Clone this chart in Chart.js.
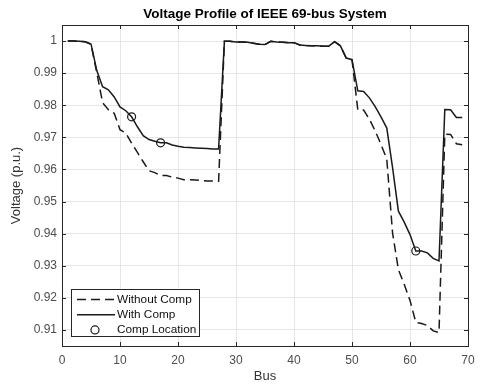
<!DOCTYPE html>
<html>
<head>
<meta charset="utf-8">
<script src="https://cdn.jsdelivr.net/npm/chart.js@4"></script>
<style>
  html, body { margin: 0; padding: 0; background: #fff; }
  #wrap { width: 482px; height: 384px; }
</style>
</head>
<body>
<div id="wrap"><canvas id="voltage"></canvas></div>
<script>
// Data
const buses = [1, 2, 3, 4, 5, 6, 7, 8, 9, 10, 11, 12, 13, 14, 15, 16, 17, 18, 19, 20,
  21, 22, 23, 24, 25, 26, 27, 28, 29, 30, 31, 32, 33, 34, 35, 36, 37, 38, 39, 40,
  41, 42, 43, 44, 45, 46, 47, 48, 49, 50, 51, 52, 53, 54, 55, 56, 57, 58, 59, 60,
  61, 62, 63, 64, 65, 66, 67, 68, 69];
const withoutComp = [1.0000, 1.0000, 0.9999, 0.9998, 0.9990, 0.9901, 0.9808, 0.9786, 0.9775, 0.9724,
  0.9713, 0.9682, 0.9653, 0.9624, 0.9596, 0.9590, 0.9581, 0.9581, 0.9576, 0.9573,
  0.9568, 0.9568, 0.9567, 0.9566, 0.9564, 0.9564, 0.9563, 0.9999, 0.9999, 0.9997,
  0.9997, 0.9996, 0.9993, 0.9990, 0.9989, 0.9999, 0.9997, 0.9996, 0.9995, 0.9995,
  0.9988, 0.9986, 0.9985, 0.9985, 0.9984, 0.9984, 0.9998, 0.9985, 0.9947, 0.9942,
  0.9786, 0.9785, 0.9757, 0.9720, 0.9678, 0.9632, 0.9401, 0.9288, 0.9242, 0.9192,
  0.9124, 0.9120, 0.9114, 0.9097, 0.9092, 0.9710, 0.9709, 0.9680, 0.9677];
const withComp = [1.0000, 1.0000, 0.9999, 0.9998, 0.9991, 0.9908, 0.9858, 0.9848, 0.9826, 0.9795,
  0.9783, 0.9764, 0.9733, 0.9705, 0.9693, 0.9688, 0.9683, 0.9683, 0.9676, 0.9672,
  0.9669, 0.9668, 0.9667, 0.9666, 0.9665, 0.9664, 0.9664, 0.9999, 0.9999, 0.9997,
  0.9997, 0.9996, 0.9993, 0.9990, 0.9989, 0.9999, 0.9997, 0.9996, 0.9995, 0.9995,
  0.9988, 0.9986, 0.9985, 0.9985, 0.9984, 0.9984, 0.9998, 0.9985, 0.9947, 0.9942,
  0.9845, 0.9843, 0.9823, 0.9796, 0.9764, 0.9729, 0.9605, 0.9470, 0.9436, 0.9397,
  0.9346, 0.9346, 0.9340, 0.9323, 0.9315, 0.9787, 0.9786, 0.9762, 0.9762];
const compBuses = [12, 17, 61];
const xTicks = [0, 10, 20, 30, 40, 50, 60, 70];
const yTicks = [0.91, 0.92, 0.93, 0.94, 0.95, 0.96, 0.97, 0.98, 0.99, 1];

const FONT = "'Liberation Sans', Arial, sans-serif";
const INK = "#262626";

let toPoints = (ys) => buses.map((b, i) => ({ x: b, y: ys[i] }));
let compPoints = compBuses.map(b => ({ x: b, y: withComp[b - 1] }));

// MATLAB style box, inward ticks and legend
const axesBox = {
  id: "axesBox",
  afterDatasetsDraw(chart) {
    const { ctx, chartArea: ca, scales: { x, y } } = chart;
    ctx.save();
    ctx.strokeStyle = INK;
    ctx.lineWidth = 1;
    ctx.beginPath();
    for (let v of xTicks) {
      let px = Math.round(x.getPixelForValue(v)) + 0.5;
      ctx.moveTo(px, ca.bottom); ctx.lineTo(px, ca.bottom - 4);
      ctx.moveTo(px, ca.top); ctx.lineTo(px, ca.top + 4);
    }
    for (let v of yTicks) {
      let py = Math.round(y.getPixelForValue(v)) + 0.5;
      ctx.moveTo(ca.left, py); ctx.lineTo(ca.left + 4, py);
      ctx.moveTo(ca.right, py); ctx.lineTo(ca.right - 4, py);
    }
    ctx.stroke();
    ctx.strokeRect(Math.round(ca.left) + 0.5, Math.round(ca.top) + 0.5,
      Math.round(ca.right - ca.left), Math.round(ca.bottom - ca.top));

    // Legend, bottom-left inside the axes
    const lx = ca.left + 9, ly = ca.bottom - 57.5, lw = 128, lh = 47;
    ctx.fillStyle = "#fff";
    ctx.fillRect(lx, ly, lw, lh);
    ctx.strokeStyle = INK;
    ctx.strokeRect(Math.round(lx) + 0.5, Math.round(ly) + 0.5, lw, lh);
    ctx.font = `11.8px ${FONT}`;
    ctx.textBaseline = "middle";
    chart.data.datasets.forEach((ds, i) => {
      let rowY = ly + 11 + i * 15.2;
      ctx.strokeStyle = "#1a1a1a";
      ctx.lineWidth = 1.5;
      if (ds.showLine === false) {
        ctx.beginPath();
        ctx.arc(lx + 24, rowY, 4, 0, Math.PI * 2);
        ctx.lineWidth = 1.2;
        ctx.stroke();
      } else {
        ctx.setLineDash(ds.borderDash || []);
        ctx.beginPath();
        ctx.moveTo(lx + 6, rowY); ctx.lineTo(lx + 44, rowY);
        ctx.stroke();
        ctx.setLineDash([]);
      }
      ctx.fillStyle = "#111";
      ctx.fillText(ds.label, lx + 46, rowY);
    });
    ctx.restore();
  }
};

new Chart(document.getElementById("voltage"), {
  type: "line",
  data: {
    datasets: [
      { label: "Without Comp", data: toPoints(withoutComp), borderColor: "#1a1a1a", borderWidth: 1.5,
        borderDash: [9, 5], pointRadius: 0, tension: 0, fill: false },
      { label: "With Comp", data: toPoints(withComp), borderColor: "#1a1a1a", borderWidth: 1.5,
        pointRadius: 0, tension: 0, fill: false },
      { label: "Comp Location", data: compPoints, showLine: false, pointStyle: "circle",
        pointRadius: 4, pointBorderWidth: 1.2, pointBorderColor: "#1a1a1a",
        pointBackgroundColor: "rgba(0,0,0,0)" }
    ]
  },
  options: {
    responsive: true,
    maintainAspectRatio: false,
    animation: false,
    layout: { padding: { left: 0, right: 14, top: 0, bottom: 0 } },
    plugins: {
      legend: { display: false },
      tooltip: { enabled: false },
      title: {
        display: true, fullSize: false, text: "Voltage Profile of IEEE 69-bus System",
        color: "#000", font: { family: FONT, size: 13.5, weight: "bold" },
        padding: { top: 6.5, bottom: 2.3 }
      }
    },
    scales: {
      x: {
        type: "linear", min: 0, max: 70,
        afterFit: (s) => { s.height = 38; },
        afterBuildTicks: (s) => { s.ticks = xTicks.map(v => ({ value: v })); },
        ticks: { color: "#4d4d4d", padding: 7, font: { family: FONT, size: 12 }, maxRotation: 0 },
        grid: { color: "#e6e6e6", drawTicks: false },
        border: { display: false },
        title: { display: true, text: "Bus", color: "#333", font: { family: FONT, size: 13 },
          padding: { top: 0, bottom: 0 } }
      },
      y: {
        type: "linear", min: 0.905, max: 1.005,
        afterFit: (s) => { s.width = 62; },
        afterBuildTicks: (s) => { s.ticks = yTicks.map(v => ({ value: v })); },
        ticks: { color: "#4d4d4d", padding: 5, font: { family: FONT, size: 12 },
          callback: (v) => `${Number(v.toFixed(2))}` },
        grid: { color: "#e6e6e6", drawTicks: false },
        border: { display: false },
        title: { display: true, text: "Voltage (p.u.)", color: "#333", font: { family: FONT, size: 13 },
          padding: { top: 9, bottom: 0 } }
      }
    }
  },
  plugins: [axesBox]
});
</script>
</body>
</html>
